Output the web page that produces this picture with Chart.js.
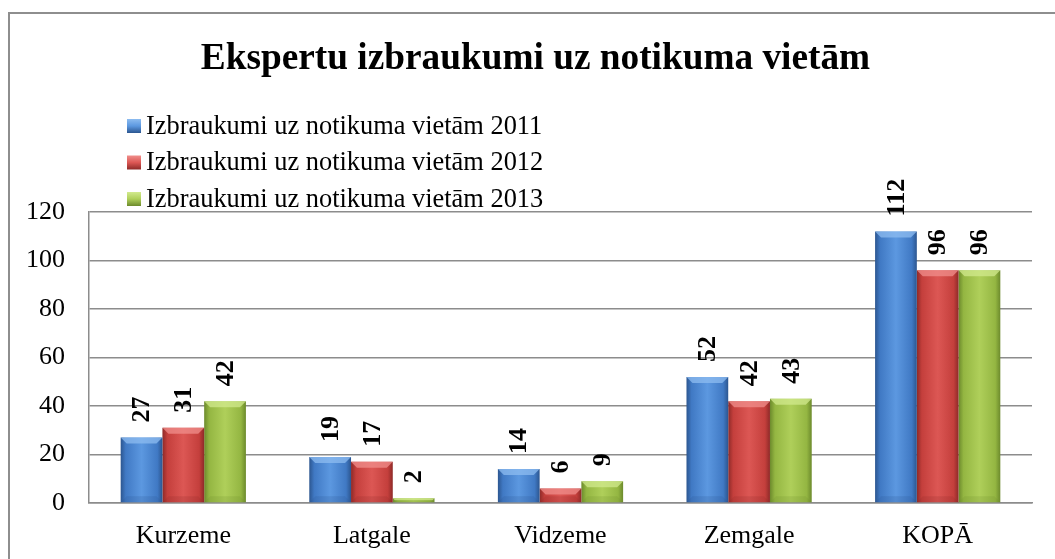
<!DOCTYPE html>
<html>
<head>
<meta charset="utf-8">
<script src="https://cdn.jsdelivr.net/npm/chart.js@4"></script>
<style>
  body { margin: 0; background: #fff; }
  #wrap { position: relative; width: 1055px; height: 559px; overflow: hidden; }
  #frame { position: absolute; left: 8px; top: 12px; width: 1200px; height: 700px;
           border-top: 2px solid #8e8e8e; border-left: 2px solid #8e8e8e; }
  canvas { position: absolute; left: 0; top: 0; }
</style>
</head>
<body>
<div id="wrap">
  <div id="frame"></div>
  <canvas id="chart" width="1055" height="559"></canvas>
</div>
<script>
const chartTitle = 'Ekspertu izbraukumi uz notikuma vietām';
const categories = ['Kurzeme', 'Latgale', 'Vidzeme', 'Zemgale', 'KOPĀ'];
const seriesNames = [
  'Izbraukumi uz notikuma vietām 2011',
  'Izbraukumi uz notikuma vietām 2012',
  'Izbraukumi uz notikuma vietām 2013'
];
const values2011 = [27, 19, 14, 52, 112];
const values2012 = [31, 17, 6, 42, 96];
const values2013 = [42, 2, 9, 43, 96];
const yTickValues = [0, 20, 40, 60, 80, 100, 120];

const serif = "'Liberation Serif', 'Times New Roman', serif";
const gridColor = '#8c8c8c';
const CAT_PCT = 0.664;

// dark edge, mid, light centre, bevel highlight
const palettes = [
  { dark: '#2c5690', mid: '#4079c4', light: '#5c98e0', top: '#8dbcf0' },
  { dark: '#8e2a28', mid: '#c43f3c', light: '#dc5754', top: '#f08f8c' },
  { dark: '#6c8a2c', mid: '#94b642', light: '#afcf5a', top: '#d2ea8e' }
];

function barFill(ctx) {
  const p = palettes[ctx.datasetIndex];
  const chart = ctx.chart;
  const xs = chart.scales.x;
  if (!xs || ctx.type !== 'data' || !isFinite(xs.width) || xs.width <= 0) return p.mid;
  const cw = xs.width / categories.length;
  const bw = cw * CAT_PCT / 3;
  const left = xs.getPixelForValue(ctx.dataIndex) - cw * CAT_PCT / 2 + ctx.datasetIndex * bw;
  const g = chart.ctx.createLinearGradient(left, 0, left + bw, 0);
  g.addColorStop(0, p.dark);
  g.addColorStop(0.12, p.mid);
  g.addColorStop(0.5, p.light);
  g.addColorStop(0.88, p.mid);
  g.addColorStop(1, p.dark);
  return g;
}

// bevelled tops and soft dark bottoms, like the original 3D-ish bars
const bevelPlugin = {
  id: 'bevel',
  afterDatasetsDraw(chart) {
    const c = chart.ctx;
    chart.data.datasets.forEach((ds, di) => {
      const p = palettes[di];
      chart.getDatasetMeta(di).data.forEach(bar => {
        const w = bar.width, x0 = bar.x - w / 2, x1 = bar.x + w / 2;
        const h = bar.base - bar.y;
        const b = Math.min(6, h / 2);
        c.save();
        c.globalAlpha = 0.75;
        c.fillStyle = p.top;
        c.beginPath();
        c.moveTo(x0, bar.y); c.lineTo(x1, bar.y);
        c.lineTo(x1 - b, bar.y + b); c.lineTo(x0 + b, bar.y + b);
        c.closePath(); c.fill();
        c.globalAlpha = 0.2;
        c.fillStyle = p.dark;
        c.beginPath();
        c.moveTo(x0, bar.base); c.lineTo(x1, bar.base);
        c.lineTo(x1 - b, bar.base - b); c.lineTo(x0 + b, bar.base - b);
        c.closePath(); c.fill();
        c.restore();
      });
    });
  }
};

// rotated value labels above each bar
const valueLabels = {
  id: 'valueLabels',
  afterDatasetsDraw(chart) {
    const c = chart.ctx;
    c.save();
    c.font = 'bold 26px ' + serif;
    c.fillStyle = '#000';
    c.textAlign = 'left';
    c.textBaseline = 'middle';
    chart.data.datasets.forEach((ds, di) => {
      chart.getDatasetMeta(di).data.forEach((bar, i) => {
        c.save();
        c.translate(bar.x, bar.y - 15);
        c.rotate(-Math.PI / 2);
        c.fillText(String(ds.data[i]), 0, 1);
        c.restore();
      });
    });
    c.restore();
  }
};

// title centred on the outer frame, and a vertical legend in the upper-left corner
const headerPlugin = {
  id: 'header',
  afterDraw(chart) {
    const c = chart.ctx;
    c.save();
    c.font = 'bold 37.3px ' + serif;
    c.fillStyle = '#000';
    c.textAlign = 'center';
    c.textBaseline = 'middle';
    c.fillText(chartTitle, (chart.width + 16) / 2, 59);

    const left = chart.chartArea.left + 38;
    const top = chart.chartArea.top - 86;
    c.font = '26.4px ' + serif;
    c.textAlign = 'left';
    chart.data.datasets.forEach((ds, di) => {
      const p = palettes[di];
      const y = top + di * 36.5;
      const g = c.createLinearGradient(0, y - 7, 0, y + 7);
      g.addColorStop(0, p.top);
      g.addColorStop(0.5, p.light);
      g.addColorStop(1, p.dark);
      c.fillStyle = g;
      c.fillRect(left, y - 7, 14, 14);
      c.fillStyle = '#000';
      c.fillText(ds.label, left + 19, y + 1);
    });
    c.restore();
  }
};

new Chart(document.getElementById('chart'), {
  type: 'bar',
  data: {
    labels: categories,
    datasets: [
      { label: seriesNames[0], data: values2011, backgroundColor: barFill },
      { label: seriesNames[1], data: values2012, backgroundColor: barFill },
      { label: seriesNames[2], data: values2013, backgroundColor: barFill }
    ]
  },
  options: {
    responsive: false,
    animation: false,
    categoryPercentage: CAT_PCT,
    barPercentage: 1,
    layout: { padding: { left: 8, right: 23, top: 212, bottom: 11 } },
    plugins: {
      legend: { display: false },
      tooltip: { enabled: false },
      title: { display: false }
    },
    scales: {
      x: {
        grid: { display: false, drawTicks: false },
        border: { display: true, color: gridColor, width: 1.5 },
        afterFit(s) { s.height = 45; },
        ticks: { color: '#000', font: { family: serif, size: 26 }, padding: 18 }
      },
      y: {
        min: 0,
        max: 120,
        afterFit(s) { s.width = 81; },
        afterBuildTicks(s) { s.ticks = yTickValues.map(v => ({ value: v })); },
        grid: { color: gridColor, lineWidth: 1.5, drawTicks: false },
        border: { display: true, color: gridColor, width: 1.5 },
        ticks: { color: '#000', font: { family: serif, size: 26 }, padding: 24 }
      }
    }
  },
  plugins: [bevelPlugin, valueLabels, headerPlugin]
});
</script>
</body>
</html>
